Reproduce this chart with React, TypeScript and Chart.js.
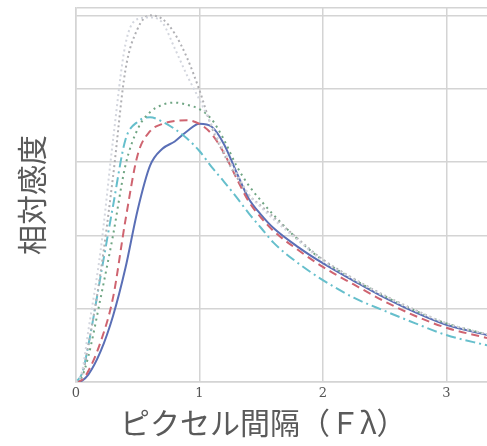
import React, { useEffect, useRef } from "react";
import { Chart, registerables } from "chart.js";

Chart.register(...registerables);

const xValues = [0, 0.05, 0.1, 0.2, 0.3, 0.4, 0.5, 0.6, 0.7, 0.8, 0.9, 1.0, 1.1, 1.2, 1.3, 1.4, 1.5, 1.6, 1.8, 2.0, 2.25, 2.5, 2.75, 3.0, 3.33];

const solidBlue = [0, 0.02, 0.1, 0.42, 0.9, 1.55, 2.35, 2.95, 3.18, 3.28, 3.42, 3.52, 3.48, 3.24, 2.86, 2.5, 2.28, 2.1, 1.84, 1.62, 1.38, 1.15, 0.95, 0.78, 0.64];
const dashedRed = [0, 0.03, 0.15, 0.55, 1.15, 2.2, 3.1, 3.42, 3.52, 3.56, 3.57, 3.52, 3.38, 3.12, 2.78, 2.46, 2.24, 2.06, 1.8, 1.57, 1.33, 1.1, 0.9, 0.74, 0.6];
const dottedGreen = [0, 0.08, 0.35, 1.15, 2.0, 2.95, 3.45, 3.68, 3.78, 3.81, 3.78, 3.72, 3.58, 3.3, 2.95, 2.68, 2.47, 2.28, 1.94, 1.66, 1.4, 1.17, 0.97, 0.8, 0.65];
const dashDotTeal = [0, 0.12, 0.5, 1.45, 2.4, 3.3, 3.55, 3.61, 3.55, 3.45, 3.32, 3.15, 2.93, 2.73, 2.52, 2.3, 2.1, 1.9, 1.62, 1.39, 1.15, 0.97, 0.8, 0.64, 0.5];
const dottedGray = [0, 0.1, 0.5, 1.5, 2.8, 4.25, 4.82, 5.0, 4.95, 4.75, 4.42, 3.98, 3.47, 3.1, 2.8, 2.55, 2.4, 2.25, 1.95, 1.67, 1.41, 1.18, 0.98, 0.8, 0.65];
const dottedLightGray = [0, 0.15, 0.7, 1.8, 3.3, 4.6, 4.95, 4.97, 4.9, 4.55, 4.18, 3.85, 3.5, 3.15, 2.85, 2.56, 2.38, 2.22, 1.93, 1.65, 1.4, 1.17, 0.97, 0.8, 0.65];

const xTicks = [0, 1, 2, 3];
const yTicks = [0, 1, 2, 3, 4, 5, 5.1];

const xTitle = "ピクセル間隔（Ｆλ）";
const yTitle = "相対感度";

function pts(ys: number[]) {
  return ys.map((y, i) => ({ x: xValues[i], y }));
}

const xTitlePlugin = {
  id: "xTitle",
  afterDraw(chart: any) {
    const ctx = chart.ctx as CanvasRenderingContext2D;
    ctx.save();
    ctx.font = "30px 'Noto Sans CJK JP', sans-serif";
    ctx.fillStyle = "#5a5a5a";
    ctx.textAlign = "left";
    ctx.textBaseline = "middle";
    const w = ctx.measureText(xTitle).width;
    const target = 312;
    ctx.fillText(xTitle, 120, 423, Math.min(w, target));
    ctx.restore();
  },
};

export default function App() {
  const ref = useRef<HTMLCanvasElement | null>(null);
  useEffect(() => {
    document.body.style.margin = "0";
    const ctx = ref.current!.getContext("2d")!;
    const common = { pointRadius: 0, fill: false, cubicInterpolationMode: "monotone" as const, borderWidth: 2 };
    const chart = new Chart(ctx, {
      type: "line",
      data: {
        datasets: [
          { ...common, label: "g2", data: pts(dottedLightGray), borderColor: "#d3d6de", borderDash: [2, 3] },
          { ...common, label: "g1", data: pts(dottedGray), borderColor: "#b0b0b4", borderDash: [2, 3] },
          { ...common, label: "green", data: pts(dottedGreen), borderColor: "#6fa583", borderDash: [2, 4] },
          { ...common, label: "teal", data: pts(dashDotTeal), borderColor: "#66bfcc", borderDash: [10, 4, 2, 4] },
          { ...common, label: "red", data: pts(dashedRed), borderColor: "#cf6470", borderDash: [8, 5] },
          { ...common, label: "blue", data: pts(solidBlue), borderColor: "#5a6fb6" },
        ],
      },
      options: {
        responsive: false,
        animation: false,
        layout: { padding: { top: 8, right: 0, left: 0, bottom: 0 } },
        plugins: { legend: { display: false }, tooltip: { enabled: false } },
        scales: {
          x: {
            type: "linear",
            min: 0,
            max: 3.33,
            afterBuildTicks: (s: any) => { s.ticks = xTicks.map((v) => ({ value: v })); },
            afterFit: (s: any) => { s.height = 64; },
            grid: { color: "#d4d4d4", lineWidth: 1.5, drawTicks: false },
            border: { color: "#d4d4d4", width: 1.5 },
            ticks: {
              padding: 4,
              color: "#555",
              font: { family: "'DejaVu Serif', serif", size: 13 },
              callback: (v: any) => String(v),
            },
            title: { display: false },
          },
          y: {
            type: "linear",
            min: 0,
            max: 5.1,
            afterBuildTicks: (s: any) => { s.ticks = yTicks.map((v) => ({ value: v })); },
            afterFit: (s: any) => { s.width = 76; },
            grid: { color: "#d4d4d4", lineWidth: 1.5, drawTicks: false },
            border: { color: "#d4d4d4", width: 1.5 },
            ticks: { display: false },
            title: {
              display: true,
              text: yTitle,
              color: "#5a5a5a",
              font: { family: "'Noto Sans CJK JP', sans-serif", size: 30 },
              padding: { top: 14, bottom: 0 },
            },
          },
        },
      },
      plugins: [xTitlePlugin],
    });
    return () => chart.destroy();
  }, []);
  return (
    <div style={{ position: "absolute", left: 0, top: 0, width: 487, height: 446 }}>
      <canvas ref={ref} width={487} height={446} style={{ display: "block", width: 487, height: 446 }} />
    </div>
  );
}
